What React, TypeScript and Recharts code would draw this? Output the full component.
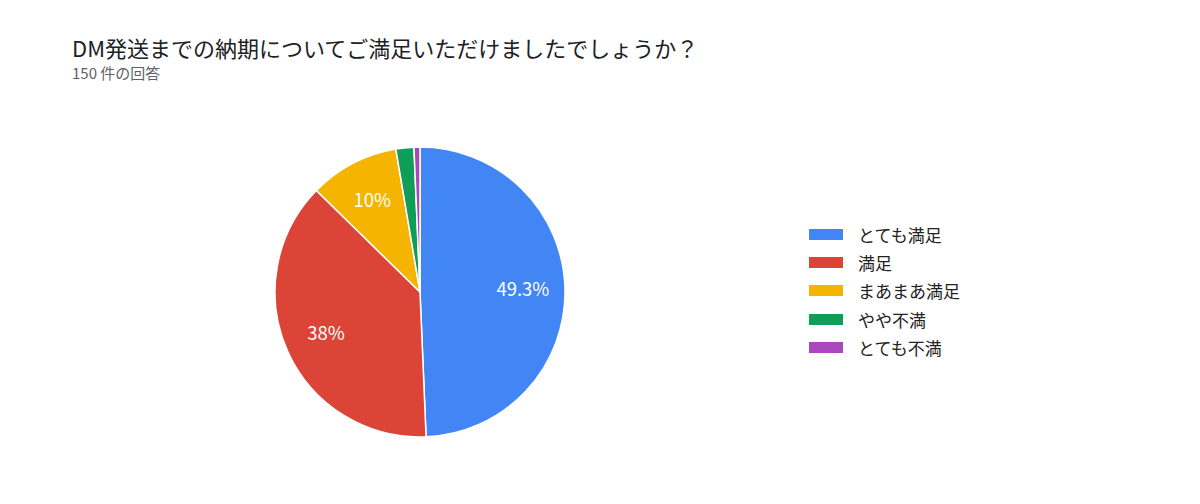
import React from 'react';
import { PieChart, Pie, Cell } from 'recharts';

const categories = ['とても満足', '満足', 'まあまあ満足', 'やや不満', 'とても不満'];
const counts = [74, 57, 15, 3, 1];
const colors = ['#4285f4', '#db4437', '#f4b400', '#0f9d58', '#ab47bc'];

const title = 'DM発送までの納期についてご満足いただけましたでしょうか？';
const subtitle = '150 件の回答';

const FONT = '"Noto Sans CJK JP", "Noto Sans", Roboto, sans-serif';
const RADIAN = Math.PI / 180;

const total = counts.reduce((a, b) => a + b, 0);
const data = categories.map((name, i) => ({ name, value: counts[i] }));

const formatPct = (v: number) => {
  const p = Math.round((v / total) * 1000) / 10;
  return `${p}%`;
};

const renderLabel = (props: any) => {
  const { cx, cy, midAngle, outerRadius, value } = props;
  if (value / total < 0.05) return null;
  const r = outerRadius * 0.71;
  const x = cx + r * Math.cos(-midAngle * RADIAN);
  const y = cy + r * Math.sin(-midAngle * RADIAN) - 2;
  return (
    <text x={x} y={y} fill="#ffffff" fontSize={18.5} fontFamily={FONT} textAnchor="middle" dominantBaseline="central">
      {formatPct(value)}
    </text>
  );
};

const App: React.FC = () => {
  return (
    <div style={{ position: 'absolute', left: 0, top: 0, width: 1200, height: 504, background: '#ffffff', fontFamily: FONT }}>
      <div style={{ position: 'absolute', left: 72, top: 31, fontSize: 22, color: '#202124', whiteSpace: 'nowrap' }}>{title}</div>
      <div style={{ position: 'absolute', left: 72, top: 62, fontSize: 15, color: '#5f6368' }}>{subtitle}</div>
      <PieChart width={1200} height={504} margin={{ top: 0, right: 0, bottom: 0, left: 0 }}>
        <Pie
          data={data}
          dataKey="value"
          nameKey="name"
          cx={420}
          cy={292}
          outerRadius={145}
          startAngle={90}
          endAngle={-270}
          stroke="#ffffff"
          strokeWidth={1.5}
          label={renderLabel}
          labelLine={false}
          isAnimationActive={false}
        >
          {data.map((d, i) => (
            <Cell key={d.name} fill={colors[i]} />
          ))}
        </Pie>
      </PieChart>
      <div style={{ position: 'absolute', left: 809, top: 220 }}>
        {categories.map((c, i) => (
          <div key={c} style={{ display: 'flex', alignItems: 'center', height: 28.3 }}>
            <div style={{ width: 34, height: 11, background: colors[i], marginRight: 15 }} />
            <span style={{ fontSize: 17, color: '#222222' }}>{c}</span>
          </div>
        ))}
      </div>
    </div>
  );
};

export default App;
